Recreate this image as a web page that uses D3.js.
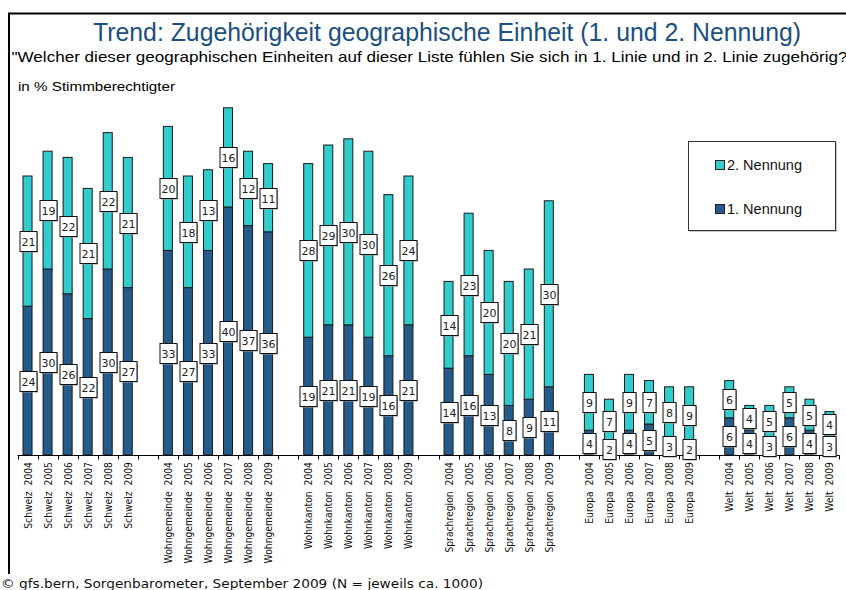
<!DOCTYPE html>
<html><head><meta charset="utf-8">
<script src="https://cdn.jsdelivr.net/npm/d3@7"></script>
<style>body{margin:0;background:#fff}svg{display:block}</style>
</head><body>
<svg id="c" width="846" height="590"></svg>
<script>
const groups = ["Schweiz","Wohngemeinde","Wohnkanton","Sprachregion","Europa","Welt"];
const years = ["2004","2005","2006","2007","2008","2009"];
const nennung1 = [24,30,26,22,30,27, 33,27,33,40,37,36, 19,21,21,19,16,21, 14,16,13,8,9,11, 4,2,4,5,3,2, 6,4,3,6,4,3];
const nennung2 = [21,19,22,21,22,21, 20,18,13,16,12,11, 28,29,30,30,26,24, 14,23,20,20,21,30, 9,7,9,7,8,9, 6,4,5,5,5,4];
const seriesNames = ["1. Nennung","2. Nennung"];
const colors = ["#255b8a","#33cccc"];
const title = "Trend: Zugehörigkeit geographische Einheit (1. und 2. Nennung)";
const subtitle = "\"Welcher dieser geographischen Einheiten auf dieser Liste fühlen Sie sich in 1. Linie und in 2. Linie zugehörig?";
const unitLabel = "in % Stimmberechtigter";
const footer = "© gfs.bern, Sorgenbarometer, September 2009 (N = jeweils ca. 1000)";

// build slots: categories with a blank slot between groups
const slots = [];
const rows = [];
groups.forEach((g, gi) => {
  if (gi > 0) slots.push("gap" + gi);
  years.forEach((y, yi) => {
    const i = gi * years.length + yi;
    const key = g + "\u00a0\u00a0" + y;
    slots.push(key);
    rows.push({key, v1: nennung1[i], v2: nennung2[i]});
  });
});

const svg = d3.select("#c");
const x = d3.scaleBand().domain(slots).range([17.5, 839.5]).paddingInner(0.55).paddingOuter(0.275);
const y = d3.scaleLinear().domain([0, 60]).range([455, 83]);
const narrow = "'Liberation Sans', Arial, sans-serif";

// frame
svg.append("path").attr("d", "M9,574 V13.5 H846").attr("fill", "none").attr("stroke", "#000").attr("stroke-width", 2);

svg.append("text").attr("x", 447).attr("y", 41).attr("text-anchor", "middle")
  .attr("font-family", narrow).attr("font-size", 25).attr("fill", "#1b4f7e")
  .attr("textLength", 708).attr("lengthAdjust", "spacingAndGlyphs").text(title);
svg.append("text").attr("x", 11.5).attr("y", 62)
  .attr("font-family", narrow).attr("font-size", 15).attr("fill", "#000")
  .attr("textLength", 836).attr("lengthAdjust", "spacingAndGlyphs").text(subtitle);
svg.append("text").attr("x", 18).attr("y", 91)
  .attr("font-family", narrow).attr("font-size", 12.5).attr("fill", "#000")
  .attr("textLength", 157).attr("lengthAdjust", "spacingAndGlyphs").text(unitLabel);

// stacked data
const stack = d3.stack().keys(["v1", "v2"])(rows);
const gBars = svg.append("g");
stack.forEach((layer, li) => {
  gBars.selectAll(null).data(layer).enter().append("rect")
    .attr("x", d => x(d.data.key))
    .attr("width", x.bandwidth())
    .attr("y", d => y(d[1]))
    .attr("height", d => y(d[0]) - y(d[1]))
    .attr("fill", colors[li])
    .attr("stroke", "#1a1a1a").attr("stroke-width", 1);
});

// axis
const axisG = svg.append("g").attr("transform", "translate(0,455.5)");
axisG.append("line").attr("x1", 17.5).attr("x2", 839.5).attr("stroke", "#000");
const step = x.step();
d3.range(slots.length + 1).forEach(i => {
  const tx = Math.round(17.5 + i * step) + 0.5;
  axisG.append("line").attr("x1", tx).attr("x2", tx).attr("y1", 0).attr("y2", 4).attr("stroke", "#000");
});
rows.forEach(r => {
  const cx = x(r.key) + x.bandwidth() / 2;
  svg.append("text")
    .attr("transform", `translate(${cx + 4},462) rotate(-90) scale(0.88,1)`)
    .attr("text-anchor", "end")
    .attr("font-family", "'DejaVu Sans', sans-serif").attr("font-size", 10.5)
    .attr("fill", "#111")
    .text(r.key);
});

// value labels
const gLab = svg.append("g");
stack.forEach((layer) => {
  layer.forEach(d => {
    const v = d[1] - d[0];
    const cx = x(d.data.key) + x.bandwidth() / 2;
    const cy = (y(d[0]) + y(d[1])) / 2;
    const w = String(v).length > 1 ? 17 : 13, h = 20;
    const g = gLab.append("g").attr("transform", `translate(${Math.round(cx)},${Math.round(cy)})`);
    g.append("rect").attr("x", -w / 2 + 1.5).attr("y", -h / 2 + 1.5).attr("width", w).attr("height", h).attr("fill", "#9a9a9a");
    g.append("rect").attr("x", -w / 2 + 0.5).attr("y", -h / 2 + 0.5).attr("width", w).attr("height", h)
      .attr("fill", "#fff").attr("stroke", "#111").attr("stroke-width", 1);
    g.append("text").attr("x", 0.5).attr("y", 4.5).attr("text-anchor", "middle")
      .attr("font-family", "'DejaVu Sans', sans-serif").attr("font-size", 11).attr("fill", "#222")
      .text(v);
  });
});

// legend
const lg = svg.append("g");
lg.append("rect").attr("x", 689.5).attr("y", 142.5).attr("width", 147).attr("height", 89).attr("fill", "#8a8a8a");
lg.append("rect").attr("x", 688.5).attr("y", 141.5).attr("width", 147).attr("height", 89).attr("fill", "#fff").attr("stroke", "#333");
[1, 0].forEach((si, k) => {
  const ly = 165 + k * 44;
  lg.append("rect").attr("x", 715.5).attr("y", ly - 4.5).attr("width", 9).attr("height", 9)
    .attr("fill", colors[si]).attr("stroke", "#222");
  lg.append("text").attr("x", 727).attr("y", ly + 5).attr("font-family", narrow).attr("font-size", 14.5)
    .attr("fill", "#111").text(seriesNames[si]);
});

svg.append("text").attr("x", 1).attr("y", 588)
  .attr("font-family", "'DejaVu Sans', sans-serif").attr("font-size", 12.5).attr("fill", "#111")
  .attr("textLength", 482).attr("lengthAdjust", "spacingAndGlyphs").text(footer);
</script>
</body></html>
